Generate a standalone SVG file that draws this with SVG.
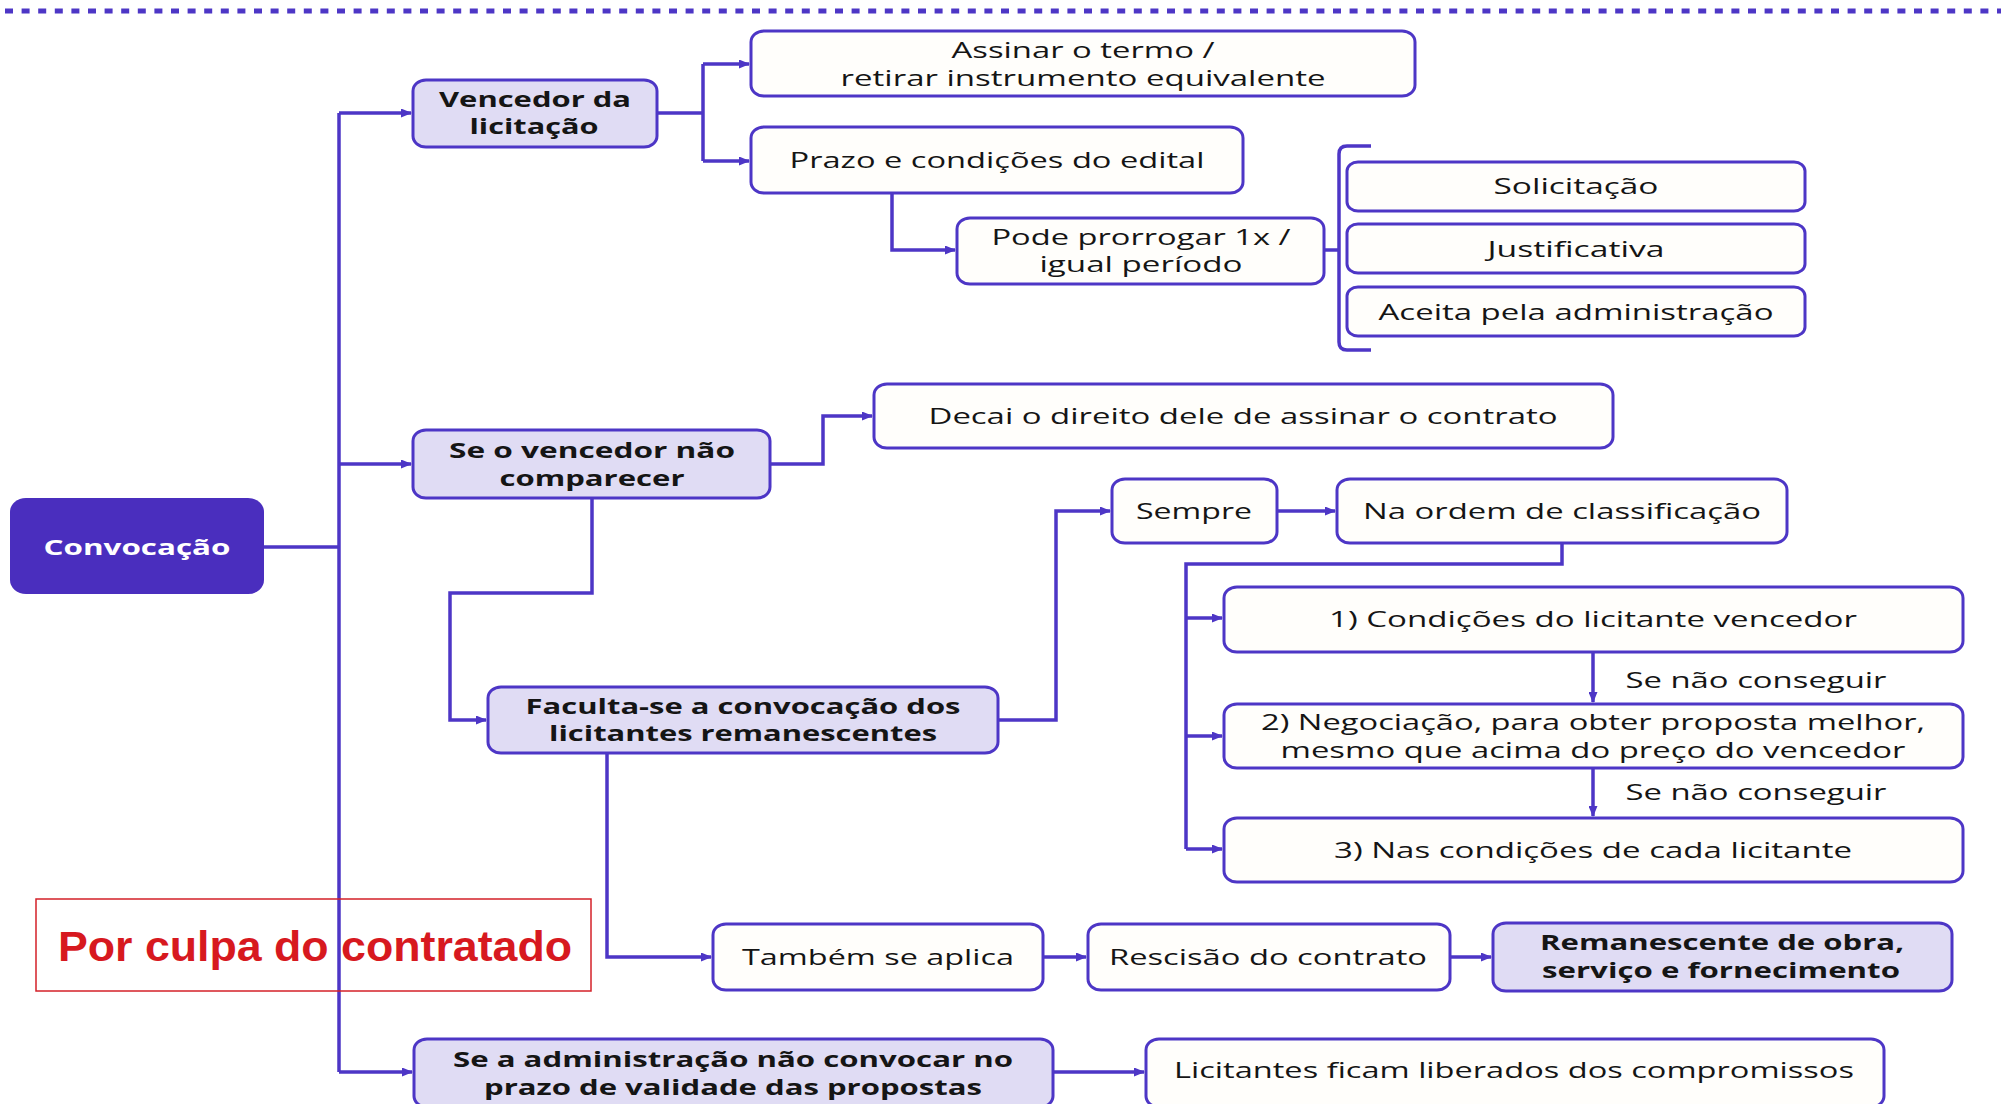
<svg xmlns="http://www.w3.org/2000/svg" width="2001" height="1104" viewBox="0 0 2001 1104">
<style>
.box{fill:#fffefb;stroke:#4d36c6;stroke-width:3}
.hl{fill:#e0dcf4;stroke:#4d36c6;stroke-width:3}
.t{font-family:"Open Sans","Noto Sans",sans-serif;font-size:21px;fill:#151515;text-anchor:middle}
.b{font-weight:700}
.conn{fill:none;stroke:#4d36c6;stroke-width:3.5}
.arr{marker-end:url(#ah)}
</style>
<defs>
<marker id="ah" markerUnits="userSpaceOnUse" markerWidth="11" markerHeight="9" refX="10" refY="4.5" orient="auto">
<path d="M0,0 L11,4.5 L0,9 z" fill="#4d36c6"/>
</marker>
</defs>
<rect width="2001" height="1104" fill="#ffffff"/>
<line x1="5" y1="11" x2="2001" y2="11" stroke="#4d36c6" stroke-width="5" stroke-dasharray="8 8.6"/>

<g id="connectors">
<path class="conn" d="M264 547 H339"/>
<path class="conn" d="M339 1072 V113"/>
<path class="conn arr" d="M339 113 H411"/>
<path class="conn arr" d="M339 464 H411"/>
<path class="conn arr" d="M339 1072 H412"/>
<path class="conn" d="M657 113 H703 M703 64 V161"/>
<path class="conn arr" d="M703 64 H749"/>
<path class="conn arr" d="M703 161 H749"/>
<path class="conn arr" d="M892 193 V250 H955"/>
<path class="conn" d="M1324 250 H1339"/>
<path class="conn" d="M1371 146 H1347 Q1339 146 1339 154 V342 Q1339 350 1347 350 H1371"/>
<path class="conn arr" d="M770 464 H823 V416 H872"/>
<path class="conn arr" d="M592 498 V593 H450 V720 H486"/>
<path class="conn arr" d="M998 720 H1056 V511 H1110"/>
<path class="conn arr" d="M1277 511 H1335"/>
<path class="conn" d="M1562 543 V564 H1186 V849"/>
<path class="conn arr" d="M1186 618 H1222"/>
<path class="conn arr" d="M1186 736 H1222"/>
<path class="conn arr" d="M1186 849 H1222"/>
<path class="conn arr" d="M1593 652 V702"/>
<path class="conn arr" d="M1593 768 V816"/>
<path class="conn arr" d="M607 753 V957 H711"/>
<path class="conn arr" d="M1043 957 H1086"/>
<path class="conn arr" d="M1450 957 H1491"/>
<path class="conn arr" d="M1053 1072 H1144"/>
</g>

<g id="convocacao">
<rect x="10" y="498" width="254" height="96" rx="16" ry="14" fill="#4a2ebe"/>
<text class="t b" x="137" y="555" style="font-size:22px;fill:#ffffff" textLength="187" lengthAdjust="spacingAndGlyphs">Convocação</text>
</g>
<g id="vencedor">
<rect class="hl" x="413" y="80" width="244" height="67" rx="13" ry="11"/>
<text class="t b" x="535" y="107" textLength="192" lengthAdjust="spacingAndGlyphs">Vencedor da</text>
<text class="t b" x="534" y="134" textLength="129" lengthAdjust="spacingAndGlyphs">licitação</text>
</g>
<g id="nao-comparecer">
<rect class="hl" x="413" y="430" width="357" height="68" rx="13" ry="11"/>
<text class="t b" x="592" y="458" textLength="286" lengthAdjust="spacingAndGlyphs">Se o vencedor não</text>
<text class="t b" x="592" y="486" textLength="185" lengthAdjust="spacingAndGlyphs">comparecer</text>
</g>
<g id="faculta">
<rect class="hl" x="488" y="687" width="510" height="66" rx="13" ry="11"/>
<text class="t b" x="743" y="714" textLength="435" lengthAdjust="spacingAndGlyphs">Faculta-se a convocação dos</text>
<text class="t b" x="743" y="741" textLength="388" lengthAdjust="spacingAndGlyphs">licitantes remanescentes</text>
</g>
<g id="admin">
<rect class="hl" x="414" y="1039" width="639" height="68" rx="13" ry="11"/>
<text class="t b" x="733" y="1067" textLength="560" lengthAdjust="spacingAndGlyphs">Se a administração não convocar no</text>
<text class="t b" x="733" y="1095" textLength="498" lengthAdjust="spacingAndGlyphs">prazo de validade das propostas</text>
</g>
<g id="assinar">
<rect class="box" x="751" y="31" width="664" height="65" rx="13" ry="11"/>
<text class="t" x="1083" y="58" textLength="263" lengthAdjust="spacingAndGlyphs">Assinar o termo /</text>
<text class="t" x="1083" y="86" textLength="485" lengthAdjust="spacingAndGlyphs">retirar instrumento equivalente</text>
</g>
<g id="prazo">
<rect class="box" x="751" y="127" width="492" height="66" rx="13" ry="11"/>
<text class="t" x="997" y="168" textLength="415" lengthAdjust="spacingAndGlyphs">Prazo e condições do edital</text>
</g>
<g id="prorrogar">
<rect class="box" x="957" y="218" width="367" height="66" rx="13" ry="11"/>
<text class="t" x="1141" y="245" textLength="299" lengthAdjust="spacingAndGlyphs">Pode prorrogar 1x /</text>
<text class="t" x="1141" y="272" textLength="203" lengthAdjust="spacingAndGlyphs">igual período</text>
</g>
<g id="solicitacao">
<rect class="box" x="1347" y="162" width="458" height="49" rx="11" ry="9"/>
<text class="t" x="1576" y="194" textLength="165" lengthAdjust="spacingAndGlyphs">Solicitação</text>
</g>
<g id="justificativa">
<rect class="box" x="1347" y="224" width="458" height="49" rx="11" ry="9"/>
<text class="t" x="1576" y="257" textLength="177" lengthAdjust="spacingAndGlyphs">Justificativa</text>
</g>
<g id="aceita">
<rect class="box" x="1347" y="287" width="458" height="49" rx="11" ry="9"/>
<text class="t" x="1576" y="320" textLength="395" lengthAdjust="spacingAndGlyphs">Aceita pela administração</text>
</g>
<g id="decai">
<rect class="box" x="874" y="384" width="739" height="64" rx="13" ry="11"/>
<text class="t" x="1243" y="424" textLength="629" lengthAdjust="spacingAndGlyphs">Decai o direito dele de assinar o contrato</text>
</g>
<g id="sempre">
<rect class="box" x="1112" y="479" width="165" height="64" rx="13" ry="11"/>
<text class="t" x="1194" y="519" textLength="116" lengthAdjust="spacingAndGlyphs">Sempre</text>
</g>
<g id="ordem">
<rect class="box" x="1337" y="479" width="450" height="64" rx="13" ry="11"/>
<text class="t" x="1562" y="519" textLength="398" lengthAdjust="spacingAndGlyphs">Na ordem de classificação</text>
</g>
<g id="cond1">
<rect class="box" x="1224" y="587" width="739" height="65" rx="13" ry="11"/>
<text class="t" x="1593" y="627" textLength="528" lengthAdjust="spacingAndGlyphs">1) Condições do licitante vencedor</text>
</g>
<g id="cond2">
<rect class="box" x="1224" y="704" width="739" height="64" rx="13" ry="11"/>
<text class="t" x="1593" y="730" textLength="664" lengthAdjust="spacingAndGlyphs">2) Negociação, para obter proposta melhor,</text>
<text class="t" x="1593" y="758" textLength="625" lengthAdjust="spacingAndGlyphs">mesmo que acima do preço do vencedor</text>
</g>
<g id="cond3">
<rect class="box" x="1224" y="818" width="739" height="64" rx="13" ry="11"/>
<text class="t" x="1593" y="858" textLength="518" lengthAdjust="spacingAndGlyphs">3) Nas condições de cada licitante</text>
</g>
<g id="labels">
<text class="t" x="1756" y="688" textLength="261" lengthAdjust="spacingAndGlyphs">Se não conseguir</text>
<text class="t" x="1756" y="800" textLength="261" lengthAdjust="spacingAndGlyphs">Se não conseguir</text>
</g>
<g id="tambem">
<rect class="box" x="713" y="924" width="330" height="66" rx="13" ry="11"/>
<text class="t" x="878" y="965" textLength="272" lengthAdjust="spacingAndGlyphs">Também se aplica</text>
</g>
<g id="rescisao">
<rect class="box" x="1088" y="924" width="362" height="66" rx="13" ry="11"/>
<text class="t" x="1268" y="965" textLength="318" lengthAdjust="spacingAndGlyphs">Rescisão do contrato</text>
</g>
<g id="remanescente">
<rect class="hl" x="1493" y="923" width="459" height="68" rx="13" ry="11"/>
<text class="t b" x="1722" y="950" textLength="364" lengthAdjust="spacingAndGlyphs">Remanescente de obra,</text>
<text class="t b" x="1721" y="978" textLength="358" lengthAdjust="spacingAndGlyphs">serviço e fornecimento</text>
</g>
<g id="liberados">
<rect class="box" x="1146" y="1039" width="738" height="68" rx="13" ry="11"/>
<text class="t" x="1514" y="1078" textLength="680" lengthAdjust="spacingAndGlyphs">Licitantes ficam liberados dos compromissos</text>
</g>
<g id="culpa">
<rect x="36" y="899" width="555" height="92" fill="none" stroke="#d42128" stroke-width="1.5"/>
<text x="315" y="961" font-family="'Liberation Sans',Arial,sans-serif" font-weight="700" font-size="42" fill="#d7191f" text-anchor="middle" textLength="514" lengthAdjust="spacingAndGlyphs">Por culpa do contratado</text>
</g>
</svg>
